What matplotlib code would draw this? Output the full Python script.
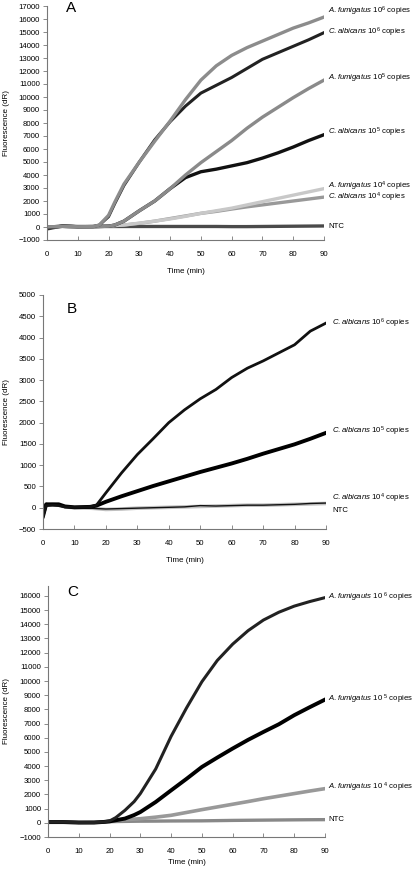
import matplotlib
matplotlib.use("Agg")
import matplotlib.pyplot as plt

plt.rcParams['font.family'] = ['Liberation Sans', 'DejaVu Sans']
plt.rcParams['mathtext.fontset'] = 'custom'
plt.rcParams['mathtext.rm'] = 'Liberation Sans'
plt.rcParams['mathtext.it'] = 'Liberation Sans:italic'

# ---------------- Panel A data ----------------
time_a = [0, 5, 10, 15, 17, 20, 22, 25, 30, 35, 40, 45, 50, 55, 60, 65, 70, 75, 80, 85, 90]
a_afum6 = [0, 50, 20, 30, 150, 900, 1900, 3300, 5000, 6600, 8150, 9800, 11300, 12400, 13200, 13800, 14300, 14800, 15300, 15700, 16150]
a_calb6 = [-100, 80, 30, 30, 150, 800, 1800, 3200, 5000, 6700, 8100, 9300, 10300, 10900, 11500, 12200, 12900, 13400, 13900, 14400, 14950]
a_afum5 = [0, 50, 20, 30, 40, 60, 150, 450, 1250, 2000, 2950, 4000, 4950, 5800, 6650, 7600, 8450, 9200, 9950, 10650, 11300]
a_calb5 = [0, 50, 20, 30, 40, 60, 150, 450, 1250, 2000, 2950, 3800, 4250, 4450, 4700, 4950, 5300, 5700, 6150, 6650, 7100]
a_afum4 = [0, 50, 20, 30, 50, 80, 110, 150, 300, 450, 620, 820, 1050, 1250, 1450, 1700, 1950, 2200, 2450, 2700, 2950]
a_calb4 = [0, 50, 20, 30, 50, 80, 110, 150, 280, 450, 650, 850, 1050, 1200, 1380, 1550, 1700, 1850, 2000, 2150, 2300]
a_ntc = [-150, 80, 40, 40, 40, 40, 40, 40, 40, 40, 40, 40, 40, 40, 30, 30, 40, 50, 60, 70, 80]

# ---------------- Panel B data ----------------
time_b = [0, 1, 3, 5, 7, 10, 15, 17, 20, 25, 30, 35, 40, 45, 50, 55, 60, 65, 70, 75, 80, 85, 90]
b_calb6 = [-200, 50, 60, 50, 20, 10, 20, 60, 350, 820, 1250, 1620, 2000, 2300, 2560, 2780, 3060, 3280, 3450, 3640, 3830, 4150, 4340]
b_calb5 = [-200, 80, 80, 80, 30, 10, 20, 50, 140, 270, 390, 510, 620, 730, 840, 940, 1040, 1150, 1270, 1380, 1490, 1620, 1760]
b_calb4 = [-50, 60, 80, 60, 20, 0, -10, -20, -40, -30, -10, 0, 10, 20, 30, 40, 50, 60, 60, 70, 80, 90, 100]
b_ntc = [-150, 100, 80, 90, 30, -10, -10, -20, -30, -20, -10, 0, 10, 20, 50, 40, 50, 60, 60, 70, 80, 100, 110]

# ---------------- Panel C data ----------------
time_c = [0, 5, 10, 15, 18, 20, 22, 25, 28, 30, 35, 40, 45, 50, 55, 60, 65, 70, 75, 80, 85, 90]
c_afum6 = [50, 50, 20, 20, 60, 130, 365, 880, 1500, 2060, 3800, 6100, 8100, 9950, 11450, 12600, 13550, 14300, 14850, 15280, 15600, 15880]
c_afum5 = [50, 50, 20, 20, 60, 100, 180, 300, 550, 760, 1470, 2290, 3100, 3940, 4600, 5240, 5850, 6410, 6950, 7590, 8150, 8690]
c_afum4 = [50, 50, 20, 30, 60, 130, 170, 220, 260, 290, 400, 530, 730, 930, 1120, 1310, 1500, 1700, 1880, 2060, 2240, 2410]
c_ntc = [60, 60, 30, 40, 60, 80, 90, 100, 110, 115, 120, 130, 135, 140, 155, 170, 180, 190, 200, 210, 218, 224]

W, H = 417, 869
fig = plt.figure(figsize=(W / 100, H / 100), dpi=100)

TICK_FS = 5.6
LAB_FS = 5.8


def style(ax, ylo, yhi, ystep, ytop, left_px, width_px, xlab_pad):
    ax.set_xlim(0, 90)
    ax.set_ylim(ylo, ytop)
    ax.set_xticks(range(0, 91, 10))
    ax.set_yticks(range(ylo, yhi + 1, ystep))
    for s in ['top', 'right']:
        ax.spines[s].set_visible(False)
    for s in ['left', 'bottom']:
        ax.spines[s].set_color('#777777')
        ax.spines[s].set_linewidth(0.8)
    ax.tick_params(axis='y', direction='out', length=3, width=0.6, color='#777777',
                   labelsize=TICK_FS, pad=2)
    ax.tick_params(axis='x', direction='in', length=3, width=0.6, color='#777777',
                   labelsize=TICK_FS, pad=8)
    ax.set_xlabel('Time (min)', fontsize=LAB_FS, labelpad=xlab_pad)
    ax.set_ylabel('Fluorescence (dR)', fontsize=LAB_FS)
    ax.yaxis.set_label_coords((10 - left_px) / width_px, 0.5)
    ax.patch.set_alpha(0)


def label(ax, x, y, sp, exp, space=''):
    if sp:
        s = r'$\mathit{' + sp + '}$ 10' + space + r'$^{' + exp + '}$ copies'
    else:
        s = 'NTC'
    ax.text(x, y, s, fontsize=5.6, va='center', ha='left', clip_on=False)


# ---- A ----
axA = fig.add_axes([47 / W, 1 - 240 / H, 277 / W, 234 / H])
style(axA, -1000, 17000, 1000, 17000, 47, 277, 7)
axA.plot(time_a, a_ntc, color='#4a4a4a', lw=2.4)
axA.plot(time_a, a_calb4, color='#999999', lw=2.4)
axA.plot(time_a, a_afum4, color='#c8c8c8', lw=2.4)
axA.plot(time_a, a_calb5, color='#111111', lw=2.4)
axA.plot(time_a, a_afum5, color='#8a8a8a', lw=2.4)
axA.plot(time_a, a_calb6, color='#222222', lw=2.2)
axA.plot(time_a, a_afum6, color='#8c8c8c', lw=2.4)
axA.text(0.07, 0.99, 'A', transform=axA.transAxes, fontsize=11, va='center')
lx = 91.3
label(axA, lx, 16560, 'A.fumigatus', '6')
label(axA, lx, 14970, 'C.albicans', '6')
label(axA, lx, 11430, 'A.fumigatus', '5')
label(axA, lx, 7280, 'C.albicans', '5')
label(axA, lx, 3150, 'A.fumigatus', '4')
label(axA, lx, 2250, 'C.albicans', '4')
label(axA, lx, 30, None, None)

# ---- B ----
axB = fig.add_axes([43 / W, 1 - 529 / H, 283 / W, 234 / H])
style(axB, -500, 5000, 500, 5000, 43, 283, 7)
axB.plot(time_b, b_calb4, color='#c0c0c0', lw=2.6)
axB.plot(time_b, b_ntc, color='#111111', lw=1.0)
axB.plot(time_b, b_calb5, color='#000000', lw=2.8)
axB.plot(time_b, b_calb6, color='#111111', lw=2.0)
axB.text(0.085, 0.94, 'B', transform=axB.transAxes, fontsize=11, va='center')
lx = 91.9
label(axB, lx, 4340, 'C.albicans', '6')
label(axB, lx, 1800, 'C.albicans', '5')
label(axB, lx, 210, 'C.albicans', '4')
label(axB, lx, -60, None, None)

# ---- C ----
axC = fig.add_axes([48 / W, 1 - 837 / H, 277 / W, 251 / H])
style(axC, -1000, 16000, 1000, 16700, 48, 277, 3)
axC.plot(time_c, c_ntc, color='#888888', lw=2.4)
axC.plot(time_c, c_afum4, color='#999999', lw=2.6)
axC.plot(time_c, c_afum5, color='#000000', lw=2.8)
axC.plot(time_c, c_afum6, color='#222222', lw=2.2)
axC.text(0.07, 0.975, 'C', transform=axC.transAxes, fontsize=11, va='center')
lx = 91.0
label(axC, lx, 15880, 'A.fumigauts', '6', ' ')
label(axC, lx, 8690, 'A.fumigatus', '5', ' ')
label(axC, lx, 2480, 'A.fumigatus', '4', ' ')
label(axC, lx, 224, None, None)

fig.savefig('out.png', dpi=100)
